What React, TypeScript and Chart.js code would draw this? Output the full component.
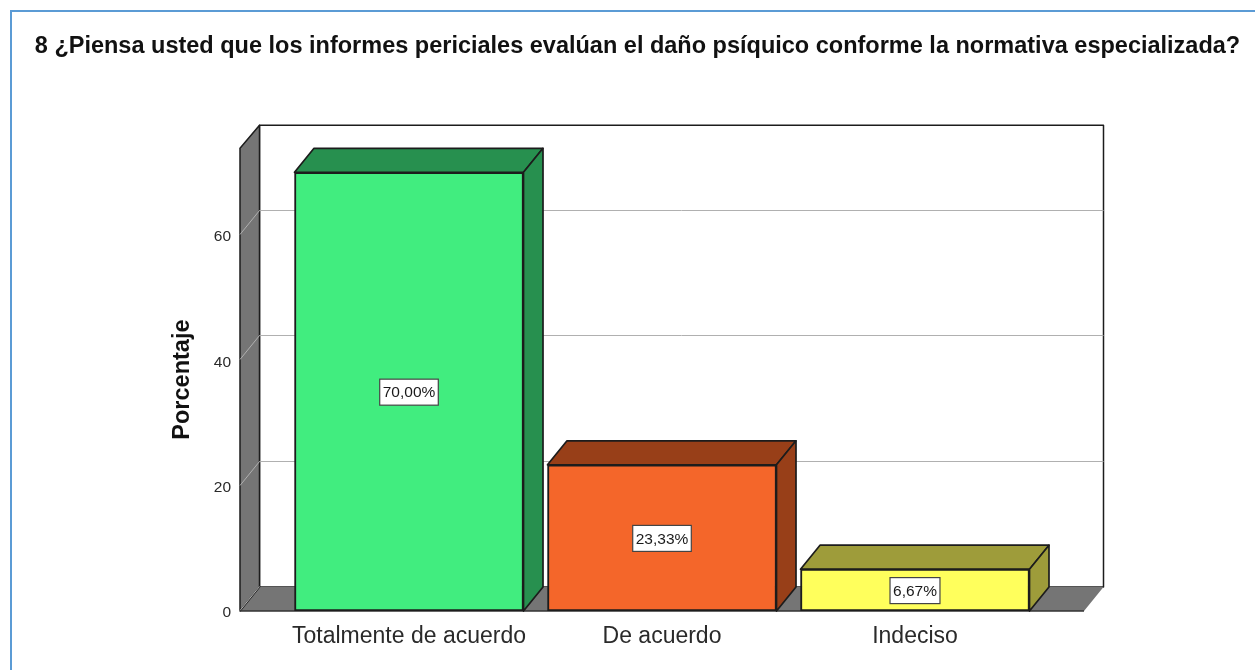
import React, { useEffect, useRef } from "react";
import { Chart, registerables } from "chart.js";

Chart.register(...registerables);

const chartTitle = "8 ¿Piensa usted que los informes periciales evalúan el daño psíquico conforme la normativa especializada?";
const axisTitle = "Porcentaje";
const categories = ["Totalmente de acuerdo", "De acuerdo", "Indeciso"];
const percentages = [70, 23.33, 6.67];
const frontColors = ["#41ED7F", "#F4662A", "#FFFF5C"];
const sideColors = ["#27904F", "#983F18", "#9E9C3A"];
const yTicks = [0, 20, 40, 60];

const FONT = "'Liberation Sans', Arial, sans-serif";
const DEPTH_X = 19.5;
const DEPTH_Y = 24;
const WALL = "#757575";
const EDGE = "#1c1c1c";

function poly(ctx: CanvasRenderingContext2D, pts: number[][], fill: string | null, stroke: string | null, lw = 1.5) {
  ctx.beginPath();
  pts.forEach(([x, y], i) => (i ? ctx.lineTo(x, y) : ctx.moveTo(x, y)));
  ctx.closePath();
  if (fill) {
    ctx.fillStyle = fill;
    ctx.fill();
  }
  if (stroke) {
    ctx.strokeStyle = stroke;
    ctx.lineWidth = lw;
    ctx.lineJoin = "round";
    ctx.stroke();
  }
}

const scene3d = {
  id: "scene3d",
  beforeDatasetsDraw(chart: any) {
    const { ctx, chartArea: a, scales } = chart;
    const y = scales.y;
    const dx = DEPTH_X;
    const dy = DEPTH_Y;
    ctx.save();
    // back wall
    poly(ctx, [[a.left + dx, a.top - dy + 1], [a.right + dx, a.top - dy + 1], [a.right + dx, a.bottom - dy], [a.left + dx, a.bottom - dy]], "#ffffff", EDGE, 1.5);
    // floor
    poly(ctx, [[a.left, a.bottom], [a.left + dx, a.bottom - dy], [a.right + dx, a.bottom - dy], [a.right, a.bottom]], WALL, null);
    // left wall
    poly(ctx, [[a.left, a.top], [a.left + dx, a.top - dy + 1], [a.left + dx, a.bottom - dy], [a.left, a.bottom]], WALL, EDGE, 1.5);
    // grid lines on wall and back
    ctx.strokeStyle = "#b0b0b0";
    ctx.lineWidth = 1;
    yTicks.forEach((t) => {
      const py = Math.round(y.getPixelForValue(t)) - 0.5;
      ctx.beginPath();
      ctx.moveTo(a.left, py);
      ctx.lineTo(a.left + dx, py - dy);
      if (t !== 0) ctx.lineTo(a.right + dx, py - dy);
      ctx.stroke();
    });
    // floor front edge
    ctx.strokeStyle = "#333333";
    ctx.lineWidth = 1.5;
    ctx.beginPath();
    ctx.moveTo(a.left, a.bottom);
    ctx.lineTo(a.right, a.bottom);
    ctx.stroke();
    // 3D faces of bars
    chart.getDatasetMeta(0).data.forEach((bar: any, i: number) => {
      const half = bar.width / 2;
      const l = bar.x - half;
      const r = bar.x + half;
      const t = bar.y;
      const b = bar.base;
      poly(ctx, [[l, t], [l + dx, t - dy], [r + dx, t - dy], [r, t]], sideColors[i], EDGE, 1.7);
      poly(ctx, [[r, t], [r + dx, t - dy], [r + dx, b - dy], [r, b]], sideColors[i], EDGE, 1.7);
    });
    ctx.restore();
  },
  afterDatasetsDraw(chart: any) {
    const { ctx } = chart;
    ctx.save();
    ctx.font = `15.5px ${FONT}`;
    ctx.textAlign = "center";
    ctx.textBaseline = "middle";
    chart.getDatasetMeta(0).data.forEach((bar: any, i: number) => {
      const label = percentages[i].toFixed(2).replace(".", ",") + "%";
      const w = ctx.measureText(label).width + 6;
      const h = 26;
      const cy = (bar.y + bar.base) / 2 + 0.5;
      ctx.fillStyle = "#ffffff";
      ctx.strokeStyle = "#444444";
      ctx.lineWidth = 1.2;
      ctx.fillRect(bar.x - w / 2, cy - h / 2, w, h);
      ctx.strokeRect(bar.x - w / 2, cy - h / 2, w, h);
      ctx.fillStyle = "#1a1a1a";
      ctx.fillText(label, bar.x, cy + 1);
    });
    ctx.restore();
  },
};

export default function App() {
  const ref = useRef<HTMLCanvasElement | null>(null);
  useEffect(() => {
    document.body.style.margin = "0";
    document.body.style.background = "#ffffff";
    const chart = new Chart(ref.current as HTMLCanvasElement, {
      type: "bar",
      data: {
        datasets: [
          {
            data: percentages.map((v, i) => ({ x: i, y: v })),
            backgroundColor: frontColors,
            borderColor: EDGE,
            borderWidth: 2,
            borderSkipped: false,
            barThickness: 229,
          },
        ],
      },
      plugins: [scene3d],
      options: {
        animation: false,
        responsive: false,
        devicePixelRatio: 1,
        layout: { padding: { left: 20, right: 0, top: 0, bottom: 0 } },
        plugins: {
          legend: { display: false },
          tooltip: { enabled: false },
          title: {
            display: true,
            text: chartTitle,
            color: "#111111",
            font: { family: FONT, size: 23.5, weight: "bold" },
            padding: { top: 32, bottom: 88 },
          },
        },
        scales: {
          x: {
            type: "linear",
            offset: false,
            min: -0.668,
            max: 2.668,
            grid: { display: false },
            border: { display: false },
            afterBuildTicks: (s: any) => {
              s.ticks = categories.map((_, i) => ({ value: i }));
            },
            afterFit: (s: any) => {
              s.height = 59;
            },
            ticks: {
              autoSkip: false,
              maxRotation: 0,
              padding: 4,
              color: "#2a2a2a",
              font: { family: FONT, size: 23 },
              callback: (v: any) => categories[v as number],
            },
          },
          y: {
            min: 0,
            max: 73.85,
            grid: { display: false },
            border: { display: false },
            afterBuildTicks: (s: any) => {
              s.ticks = yTicks.map((value) => ({ value }));
            },
            afterFit: (s: any) => {
              s.width = 220;
            },
            ticks: {
              padding: 1,
              labelOffset: 2,
              color: "#2a2a2a",
              font: { family: FONT, size: 15.5 },
            },
            title: {
              display: true,
              text: axisTitle,
              color: "#111111",
              font: { family: FONT, size: 23.5, weight: "bold" },
              padding: { top: 148, bottom: 0 },
            },
          },
          spacer: {
            position: "right",
            display: true,
            grid: { display: false },
            border: { display: false },
            ticks: { display: false },
            afterFit: (s: any) => {
              s.width = 171;
            },
          },
        },
      },
    } as any);
    return () => chart.destroy();
  }, []);
  return (
    <div style={{ position: "relative", width: 1255, height: 670, overflow: "hidden", background: "#fff" }}>
      <canvas ref={ref} width={1255} height={670} style={{ display: "block" }} />
      <div
        style={{
          position: "absolute",
          left: 10,
          top: 10,
          width: 1245,
          height: 660,
          boxSizing: "border-box",
          borderLeft: "2px solid #5B9BD5",
          borderTop: "2px solid #5B9BD5",
          pointerEvents: "none",
        }}
      />
    </div>
  );
}
